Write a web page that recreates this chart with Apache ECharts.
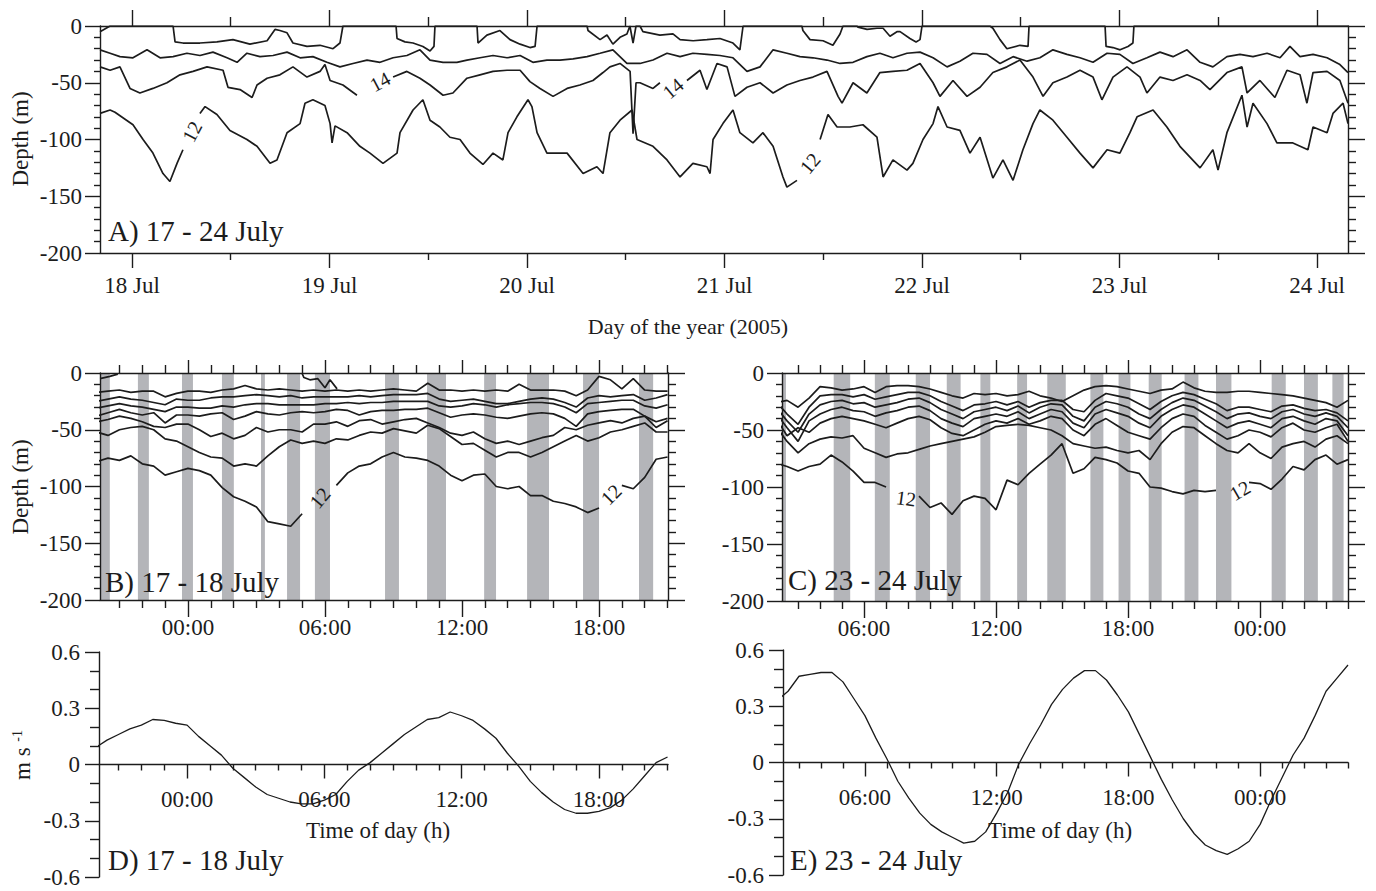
<!DOCTYPE html>
<html><head><meta charset="utf-8">
<script src="https://cdn.jsdelivr.net/npm/echarts@6/dist/echarts.min.js"></script>
<style>html,body{margin:0;padding:0;background:#fff}#c{width:1376px;height:891px}</style>
</head><body><div id="c"></div>
<script>
// ---------------- DATA ----------------
// Panel A: isotherm depths (m) as [day of July, depth]
const a15Pts = [[17.838,-21],[17.889,-24],[17.939,-27],[18.005,-28],[18.076,-21],[18.142,-28],[18.208,-27],[18.278,-24],[18.344,-26],[18.410,-23],[18.481,-28],[18.532,-32],[18.582,-24],[18.648,-27],[18.714,-26],[18.785,-23],[18.851,-28],[18.916,-27],[18.987,-32],[19.053,-36],[19.119,-33],[19.190,-30],[19.256,-32],[19.322,-28],[19.392,-26],[19.458,-21],[19.509,-30],[19.575,-32],[19.645,-32],[19.696,-30],[19.762,-28],[19.828,-26],[19.899,-28],[19.965,-26],[20.030,-32],[20.101,-30],[20.167,-30],[20.233,-29],[20.304,-27],[20.370,-24],[20.435,-21],[20.506,-33],[20.572,-33],[20.638,-30],[20.709,-24],[20.775,-27],[20.840,-24],[20.911,-25],[20.977,-26],[21.043,-28],[21.114,-40],[21.180,-36],[21.246,-21],[21.316,-24],[21.382,-27],[21.448,-28],[21.519,-30],[21.585,-33],[21.651,-32],[21.721,-27],[21.787,-24],[21.853,-28],[21.924,-24],[21.990,-23],[22.056,-28],[22.127,-36],[22.192,-31],[22.258,-24],[22.329,-25],[22.395,-33],[22.461,-27],[22.532,-31],[22.597,-28],[22.663,-21],[22.734,-25],[22.800,-28],[22.866,-32],[22.937,-24],[23.002,-25],[23.068,-33],[23.139,-28],[23.205,-23],[23.271,-27],[23.342,-21],[23.408,-32],[23.473,-36],[23.544,-27],[23.610,-25],[23.676,-27],[23.747,-24],[23.813,-28],[23.863,-18],[23.914,-27],[23.980,-25],[24.051,-28],[24.116,-34],[24.157,-41]];
const a14Pts = [[17.838,-36],[17.889,-39],[17.939,-36],[17.990,-55],[18.040,-59],[18.106,-55],[18.177,-50],[18.243,-43],[18.309,-40],[18.380,-36],[18.461,-39],[18.486,-54],[18.547,-56],[18.608,-63],[18.633,-52],[18.684,-46],[18.749,-43],[18.815,-36],[18.886,-45],[18.952,-40],[18.977,-34],[19.003,-48],[19.068,-52],[19.139,-61],[19.2,null],[19.322,-45],[19.392,-40],[19.458,-46],[19.509,-52],[19.575,-61],[19.625,-59],[19.696,-46],[19.762,-43],[19.828,-40],[19.899,-39],[19.965,-39],[20.015,-49],[20.066,-55],[20.132,-62],[20.203,-55],[20.268,-52],[20.334,-48],[20.385,-41],[20.420,-36],[20.471,-33],[20.522,-40],[20.537,-95],[20.552,-50],[20.572,-50],[20.638,-55],[20.673,-50],[20.74,null],[20.810,-48],[20.876,-39],[20.911,-56],[20.962,-33],[21.013,-36],[21.053,-62],[21.114,-54],[21.180,-50],[21.246,-59],[21.316,-52],[21.382,-48],[21.448,-45],[21.519,-40],[21.575,-62],[21.595,-68],[21.651,-50],[21.721,-59],[21.787,-41],[21.853,-40],[21.924,-39],[21.990,-33],[22.056,-50],[22.091,-62],[22.157,-48],[22.228,-62],[22.294,-54],[22.359,-41],[22.430,-36],[22.496,-30],[22.562,-45],[22.613,-62],[22.663,-50],[22.734,-45],[22.800,-39],[22.866,-45],[22.911,-65],[22.967,-45],[23.038,-36],[23.104,-45],[23.139,-59],[23.205,-45],[23.271,-48],[23.342,-43],[23.408,-48],[23.458,-56],[23.544,-41],[23.620,-36],[23.646,-59],[23.711,-48],[23.787,-63],[23.848,-39],[23.914,-43],[23.949,-68],[23.980,-41],[24.051,-40],[24.116,-48],[24.157,-68]];
const a12Pts = [[17.838,-77],[17.889,-74],[17.914,-76],[18.005,-87],[18.056,-100],[18.106,-112],[18.157,-130],[18.192,-137],[18.228,-121],[18.258,-109],[18.30,null],[18.344,-77],[18.370,-71],[18.430,-78],[18.496,-92],[18.582,-100],[18.633,-106],[18.699,-121],[18.734,-118],[18.785,-94],[18.851,-86],[18.876,-68],[18.916,-65],[18.977,-70],[19.003,-86],[19.013,-103],[19.028,-88],[19.089,-94],[19.154,-106],[19.205,-112],[19.271,-121],[19.342,-112],[19.357,-94],[19.423,-74],[19.473,-65],[19.509,-83],[19.559,-89],[19.610,-98],[19.661,-100],[19.711,-112],[19.777,-122],[19.828,-112],[19.878,-118],[19.904,-94],[19.949,-80],[20.005,-65],[20.025,-71],[20.051,-94],[20.101,-112],[20.203,-112],[20.284,-130],[20.354,-124],[20.385,-130],[20.420,-94],[20.471,-83],[20.532,-74],[20.557,-100],[20.638,-106],[20.709,-118],[20.775,-133],[20.840,-121],[20.911,-124],[20.927,-130],[20.942,-100],[20.992,-86],[21.043,-74],[21.078,-94],[21.144,-103],[21.195,-94],[21.246,-106],[21.296,-133],[21.316,-142],[21.367,-136],[21.43,null],[21.484,-100],[21.524,-78],[21.570,-89],[21.635,-89],[21.701,-87],[21.772,-98],[21.803,-133],[21.853,-118],[21.924,-127],[21.954,-121],[22.005,-100],[22.056,-86],[22.081,-71],[22.127,-89],[22.192,-92],[22.243,-112],[22.294,-98],[22.359,-134],[22.410,-118],[22.461,-136],[22.511,-109],[22.562,-86],[22.597,-74],[22.663,-83],[22.734,-98],[22.800,-112],[22.866,-125],[22.937,-109],[23.002,-112],[23.053,-94],[23.089,-80],[23.170,-74],[23.240,-89],[23.306,-106],[23.408,-125],[23.473,-109],[23.499,-127],[23.544,-94],[23.620,-61],[23.646,-89],[23.676,-68],[23.747,-86],[23.797,-103],[23.878,-103],[23.954,-109],[23.980,-89],[24.051,-94],[24.081,-77],[24.132,-68],[24.157,-86]];
// Near-surface isotherm (appears intermittently), irregular times
const aTopT = [17.838,17.889,18.208,18.218,18.258,18.344,18.430,18.511,18.597,18.684,18.724,18.749,18.785,18.815,18.886,18.952,19.018,19.053,19.068,19.337,19.342,19.382,19.423,19.473,19.509,19.529,19.534,19.747,19.752,19.797,19.863,19.914,19.965,20.015,20.041,20.051,20.304,20.309,20.370,20.405,20.435,20.471,20.506,20.521,20.537,20.552,20.572,20.587,20.673,20.739,20.775,20.841,20.911,20.977,21.043,21.078,21.094,21.392,21.397,21.433,21.499,21.549,21.585,21.600,21.671,21.676,21.722,21.772,21.803,21.838,21.873,21.889,21.939,21.970,21.990,22.000,22.344,22.359,22.395,22.430,22.496,22.537,22.542,22.927,22.932,22.967,23.003,23.043,23.068,23.073,24.157];
const aTopD = [-5,0,0,-14,-15,-15,-14,-12,-16,-13,-3,-4,-6,-15,-18,-17,-20,-15,0,0,-11,-14,-15,-18,-22,-18,0,0,-15,-8,-4,-12,-16,-19,-18,0,0,-4,-12,-8,-16,-10,-7,0,-15,0,0,-5,-8,-7,-12,-13,-12,-11,-15,-21,0,0,-4,-12,-13,-17,-7,0,0,-1,-3,-2,-2,-9,-5,-5,-11,-14,-12,0,0,-2,-12,-20,-17,-18,0,0,-18,-19,-21,-18,-15,0,0];
const aLabT = [19.256, 20.739, 18.304, 21.433];
const aLabD = [-49, -55, -93, -121];
const aLabText = ['14', '14', '12', '12'];
const aDayTicks = [18, 19, 20, 21, 22, 23, 24];
const aDayLabels = ['18 Jul', '19 Jul', '20 Jul', '21 Jul', '22 Jul', '23 Jul', '24 Jul'];
const aHalfDayTicks = [18.5, 19.5, 20.5, 21.5, 22.5, 23.5];

// Panel B: 17-18 July, hours from 18 Jul 00:00, every 0.5 h from -4 h
const bStart = -4, bStep = 0.5;
const bL1 = [-17,-16,-15,-17,-16,-16,-21,-18,-16,-16,-17,-15,-14,-11,-14,-15,-14,-15,-16,-15,-16,-15,-16,-15,-16,-15,-14,-15,-16,-9,-15,-15,-16,-15,-16,-15,-16,-10,-15,-15,-15,-16,-20,-15,-3,-6,-14,-5,-15,-16,-16];
const bL2 = [-25,-23,-21,-23,-24,-26,-28,-23,-24,-24,-22,-21,-21,-20,-19,-20,-21,-20,-22,-21,-21,-21,-21,-20,-21,-20,-19,-19,-19,-18,-23,-25,-24,-23,-25,-27,-27,-25,-23,-22,-23,-26,-30,-22,-20,-21,-20,-19,-24,-22,-19];
const bL3 = [-31,-29,-27,-29,-30,-32,-34,-30,-30,-31,-31,-29,-30,-28,-27,-27,-28,-28,-28,-28,-27,-27,-26,-27,-26,-26,-25,-25,-25,-25,-29,-30,-29,-27,-28,-30,-28,-27,-26,-26,-27,-30,-35,-27,-26,-25,-24,-24,-29,-31,-28];
const bL4 = [-38,-35,-32,-35,-37,-35,-44,-37,-37,-38,-36,-35,-41,-38,-34,-36,-37,-35,-34,-35,-34,-32,-33,-37,-34,-33,-33,-32,-32,-31,-35,-39,-37,-36,-37,-39,-40,-38,-36,-35,-36,-40,-47,-36,-34,-33,-32,-32,-38,-43,-40];
const bL5 = [-43,-41,-38,-40,-43,-47,-48,-45,-45,-50,-56,-53,-58,-55,-48,-52,-50,-50,-52,-45,-45,-43,-47,-42,-41,-45,-43,-41,-40,-44,-48,-53,-55,-52,-58,-62,-60,-63,-60,-57,-55,-48,-50,-46,-44,-42,-44,-40,-38,-48,-42];
const bL6 = [-52,-55,-50,-48,-47,-50,-58,-60,-65,-70,-74,-75,-82,-80,-82,-73,-65,-59,-62,-60,-62,-58,-59,-55,-52,-53,-49,-51,-53,-46,-49,-56,-63,-62,-68,-74,-70,-70,-74,-70,-65,-60,-55,-60,-57,-52,-50,-47,-44,-52,-52];
const bL12 = [-78,-75,-77,-73,-80,-82,-90,-87,-84,-86,-90,-101,-109,-113,-118,-131,-133,-135,-124,null,null,-99,-88,-82,-80,-74,-70,-74,-75,-77,-82,-90,-95,-90,-89,-100,-102,-100,-108,-108,-113,-115,-118,-123,-119,null,-99,-102,-92,-76,-74];
const bTopH = [-3.85,-3.42,-3.07,-3.0,4.99,5.08,5.34,5.69,6.0,6.22,6.53];
const bTopD = [-5,-3,-1,null,0,-4,-6,-5,-13,-6,-14];
const bBandStart = [-3.85,-2.19,-0.26,1.49,3.2,4.34,5.56,8.63,10.47,12.97,14.85,17.3,19.75];
const bBandEnd   = [-3.42,-1.71,0.22,2.01,3.37,4.91,6.22,9.24,11.3,13.49,15.81,18.0,20.37];
const bLabH = [5.78, 18.53];
const bLabD = [-110, -107];
const bLabText = ['12', '12'];
const bHourTicks = [0, 6, 12, 18];
const bHourLabels = ['00:00', '06:00', '12:00', '18:00'];
const bMinorHours = [-3,-2,-1,1,2,3,4,5,7,8,9,10,11,13,14,15,16,17,19,20,21];

// Panel C: 23-24 July, hours from 23 Jul 00:00, every 0.5 h from 2 h
const cStart = 2, cStep = 0.5;
const cL1 = [-26,-24,-30,-22,-12,-13,-15,-14,-12,-17,-12,-11,-11,-12,-14,-17,-20,-22,-18,-19,-18,-20,-19,-16,-20,-22,-25,-20,-15,-12,-11,-12,-14,-16,-18,-15,-14,-8,-13,-16,-17,-17,-16,-16,-17,-18,-19,-20,-22,-24,-26,-30,-24];
const cL2 = [-25,-36,-45,-30,-20,-19,-19,-21,-19,-23,-21,-19,-17,-17,-20,-25,-29,-33,-28,-27,-25,-28,-25,-30,-26,-24,-24,-32,-34,-24,-18,-20,-22,-27,-32,-25,-20,-17,-19,-23,-27,-33,-30,-30,-32,-34,-29,-28,-31,-33,-32,-35,-42];
const cL3 = [-30,-42,-52,-36,-28,-25,-24,-27,-26,-30,-28,-26,-23,-22,-26,-32,-36,-40,-34,-32,-30,-33,-29,-35,-30,-27,-28,-38,-42,-30,-25,-27,-30,-36,-40,-32,-26,-22,-24,-29,-34,-40,-36,-35,-38,-40,-34,-32,-36,-38,-35,-38,-48];
const cL4 = [-35,-48,-60,-42,-36,-32,-30,-33,-34,-38,-35,-33,-30,-29,-33,-40,-44,-47,-40,-38,-36,-38,-34,-40,-36,-32,-34,-44,-48,-36,-32,-35,-38,-44,-48,-38,-32,-28,-30,-36,-42,-48,-44,-42,-45,-48,-40,-38,-42,-45,-40,-42,-55];
const cL5 = [-40,-55,-48,-52,-44,-40,-38,-40,-42,-45,-48,-44,-40,-38,-41,-48,-53,-55,-50,-45,-42,-44,-40,-45,-42,-38,-40,-50,-55,-45,-40,-46,-52,-55,-58,-48,-40,-36,-38,-46,-52,-58,-55,-50,-52,-56,-48,-44,-50,-52,-48,-45,-60];
const cL6 = [-47,-60,-70,-62,-58,-56,-57,-55,-66,-70,-74,-71,-70,-67,-64,-62,-60,-58,-56,-52,-47,-46,-45,-46,-48,-50,-55,-62,-64,-66,-65,-68,-70,-68,-76,-62,-52,-47,-48,-55,-62,-68,-70,-62,-70,-75,-65,-62,-60,-65,-58,-55,-62];
const cL12 = [-79,-82,-86,-82,-80,-72,-78,-86,-96,-96,-100,null,null,-108,-118,-114,-124,-112,-108,-110,-120,-94,-98,-88,-80,-72,-62,-88,-84,-74,-76,-79,-86,-88,-100,-101,-104,-106,-103,-104,-103,null,null,-96,-97,-102,-93,-82,-85,-76,-72,-80,-76];
const cBandStart = [2.27,4.62,6.49,8.35,9.76,11.29,12.96,14.33,16.29,17.57,18.94,20.57,22.0,24.53,26.0,27.29];
const cBandEnd   = [2.45,5.37,7.17,9.0,10.39,11.74,13.41,15.17,16.88,18.11,19.53,21.2,22.7,25.17,26.63,27.8];
const cLabH = [7.91, 23.09];
const cLabD = [-110, -103];
const cLabText = ['12', '12'];
const cHourTicks = [6, 12, 18, 24];
const cHourLabels = ['06:00', '12:00', '18:00', '00:00'];
const cMinorHours = [3,4,5,7,8,9,10,11,13,14,15,16,17,19,20,21,22,23,25,26,27,28];

// Panels D/E: current velocity (m/s), every 0.5 h
const dVel = [0.09,0.13,0.16,0.19,0.21,0.24,0.235,0.22,0.21,0.15,0.10,0.05,-0.02,-0.07,-0.12,-0.16,-0.18,-0.20,-0.21,-0.21,-0.19,-0.16,-0.09,-0.03,0.01,0.06,0.11,0.16,0.20,0.24,0.25,0.28,0.26,0.235,0.19,0.14,0.06,-0.01,-0.09,-0.15,-0.20,-0.24,-0.26,-0.26,-0.25,-0.23,-0.19,-0.13,-0.06,0.01,0.04];
const eVel = [0.33,0.38,0.46,0.47,0.48,0.48,0.43,0.34,0.25,0.13,0.02,-0.10,-0.19,-0.27,-0.33,-0.37,-0.40,-0.43,-0.42,-0.37,-0.27,-0.16,-0.01,0.10,0.20,0.31,0.39,0.45,0.49,0.49,0.44,0.36,0.27,0.15,0.03,-0.09,-0.20,-0.30,-0.38,-0.44,-0.47,-0.49,-0.46,-0.42,-0.33,-0.20,-0.08,0.04,0.13,0.25,0.38,0.45,0.52];

const depthTicks = [0, -50, -100, -150, -200];
const depthLabels = ['0', '-50', '-100', '-150', '-200'];
const depthMinor = [-10,-20,-30,-40,-60,-70,-80,-90,-110,-120,-130,-140,-160,-170,-180,-190];
const velTicks = [0.6, 0.3, 0, -0.3, -0.6];
const velLabels = ['0.6', '0.3', '0', '-0.3', '-0.6'];
const velMinor = [0.5, 0.4, 0.2, 0.1, -0.1, -0.2, -0.4, -0.5];

// ---------------- CHART ----------------
const FONT = '"Liberation Serif","Times New Roman",serif';
const INK = '#1c1c1c';
const BAND = '#b4b5b9';
const grids = [], xAxes = [], yAxes = [], series = [];

function addGrid(g) { grids.push(Object.assign({containLabel: false, outerBoundsMode: 'none', show: false}, g)); return grids.length - 1; }
function mkAxis(kind, o) {
  const ax = {
    type: 'value', gridIndex: o.grid, min: o.min, max: o.max, position: o.pos, offset: o.offset || 0, z: 6,
    axisLine: {show: !!o.line, onZero: false, lineStyle: {color: INK, width: 1.4}},
    axisTick: {show: true, inside: false, length: o.len, customValues: o.ticks, lineStyle: {color: INK, width: 1.4}},
    axisLabel: {show: false},
    splitLine: {show: false}, splitArea: {show: false}
  };
  if (o.labels) {
    ax.axisLabel = {
      show: true, customValues: o.ticks, margin: o.margin, color: INK, fontFamily: FONT, fontSize: 23,
      formatter: function (v) { for (let k = 0; k < o.ticks.length; k++) { if (Math.abs(o.ticks[k] - v) < 1e-9) return o.labels[k]; } return ''; }
    };
  }
  const arr = kind === 'x' ? xAxes : yAxes;
  arr.push(ax);
  return arr.length - 1;
}
function regular(start, step, vals) { return vals.map((v, i) => [start + i * step, v]); }
function pairs(xs, ys) { return xs.map((x, i) => [x, ys[i]]); }
function line(xi, yi, data, w) {
  return {type: 'line', xAxisIndex: xi, yAxisIndex: yi, data: data, symbol: 'none', showSymbol: false,
    connectNulls: false, clip: true, silent: true, z: 3, lineStyle: {color: INK, width: w || 1.7}};
}
function bands(xi, yi, starts, ends) {
  return {type: 'custom', xAxisIndex: xi, yAxisIndex: yi, z: 1, silent: true, clip: true,
    data: starts.map((s, i) => [s, ends[i]]),
    renderItem: function (params, api) {
      const p0 = api.coord([api.value(0), 0]);
      const p1 = api.coord([api.value(1), -200]);
      const cs = params.coordSys;
      const r = echarts.graphic.clipRectByRect({x: p0[0], y: p0[1], width: p1[0] - p0[0], height: p1[1] - p0[1]},
        {x: cs.x, y: cs.y, width: cs.width, height: cs.height});
      return r && {type: 'rect', shape: r, style: {fill: BAND}};
    }};
}
function depthPanel(g, xmin, xmax, major, majorLabels, minor, L) {
  const xi = mkAxis('x', {grid: g, min: xmin, max: xmax, pos: 'bottom', line: true, len: L.bMaj, ticks: major, labels: majorLabels, margin: L.xMargin});
  mkAxis('x', {grid: g, min: xmin, max: xmax, pos: 'bottom', len: L.bMin, ticks: minor});
  mkAxis('x', {grid: g, min: xmin, max: xmax, pos: 'top', line: true, len: L.tMaj, ticks: major});
  mkAxis('x', {grid: g, min: xmin, max: xmax, pos: 'top', len: L.tMin, ticks: minor});
  const yi = mkAxis('y', {grid: g, min: -200, max: 0, pos: 'left', line: true, len: 15, ticks: depthTicks, labels: depthLabels, margin: 18});
  mkAxis('y', {grid: g, min: -200, max: 0, pos: 'left', len: 6, ticks: depthMinor});
  mkAxis('y', {grid: g, min: -200, max: 0, pos: 'right', line: true, len: 17, ticks: depthTicks});
  mkAxis('y', {grid: g, min: -200, max: 0, pos: 'right', len: 8, ticks: depthMinor});
  return [xi, yi];
}
// velocity panels: the time axis sits on the zero line (half the plot height above the bottom)
function velPanel(g, h, xmin, xmax, major, majorLabels, minor) {
  const off = -h / 2;
  const xi = mkAxis('x', {grid: g, min: xmin, max: xmax, pos: 'bottom', offset: off, line: true, len: 14, ticks: major, labels: majorLabels, margin: 23});
  mkAxis('x', {grid: g, min: xmin, max: xmax, pos: 'bottom', offset: off, len: 6, ticks: minor});
  const yi = mkAxis('y', {grid: g, min: -0.6, max: 0.6, pos: 'left', line: true, len: 14, ticks: velTicks, labels: velLabels, margin: 19});
  mkAxis('y', {grid: g, min: -0.6, max: 0.6, pos: 'left', len: 9, ticks: velMinor});
  return [xi, yi];
}

// Panel A
const gA = addGrid({left: 100, top: 26, width: 1248, height: 227});
const [xA, yA] = depthPanel(gA, 17.838, 24.157, aDayTicks, aDayLabels, aHalfDayTicks, {bMaj: 15, bMin: 7, tMaj: 16, tMin: 9, xMargin: 21});
series.push(line(xA, yA, pairs(aTopT, aTopD)));
series.push(line(xA, yA, a15Pts));
series.push(line(xA, yA, a14Pts));
series.push(line(xA, yA, a12Pts));

// Panel B
const gB = addGrid({left: 100, top: 373, width: 568, height: 227});
const [xB, yB] = depthPanel(gB, -3.85, 21.02, bHourTicks, bHourLabels, bMinorHours, {bMaj: 17, bMin: 8, tMaj: 13, tMin: 8, xMargin: 16});
series.push(bands(xB, yB, bBandStart, bBandEnd));
[bL1, bL2, bL3, bL4, bL5, bL6, bL12].forEach(v => series.push(line(xB, yB, regular(bStart, bStep, v))));
series.push(line(xB, yB, pairs(bTopH, bTopD)));

// Panel C
const gC = addGrid({left: 782, top: 373, width: 566, height: 228});
const [xC, yC] = depthPanel(gC, 2.27, 28.0, cHourTicks, cHourLabels, cMinorHours, {bMaj: 17, bMin: 8, tMaj: 13, tMin: 8, xMargin: 16});
series.push(bands(xC, yC, cBandStart, cBandEnd));
[cL1, cL2, cL3, cL4, cL5, cL6, cL12].forEach(v => series.push(line(xC, yC, regular(cStart, cStep, v))));

// Panel D
const gD = addGrid({left: 99, top: 652, width: 569, height: 225});
const [xD, yD] = velPanel(gD, 225, -3.85, 21.02, bHourTicks, bHourLabels, bMinorHours);
series.push(line(xD, yD, regular(bStart, bStep, dVel), 1.3));

// Panel E
const gE = addGrid({left: 783, top: 650, width: 565, height: 225});
const [xE, yE] = velPanel(gE, 225, 2.27, 28.0, cHourTicks, cHourLabels, cMinorHours);
series.push(line(xE, yE, regular(cStart, cStep, eVel), 1.3));

function txt(text, x, y, size) {
  return {type: 'text', x: x, y: y, silent: true, z: 10,
    style: {text: text, font: size + 'px ' + FONT, fill: INK, align: 'left', verticalAlign: 'middle'}};
}
const graphic = [
  txt('A) 17 - 24 July', 108, 231, 29),
  txt('B) 17 - 18 July', 105, 582, 29),
  txt('C) 23 - 24 July', 788, 580, 29),
  txt('D) 17 - 18 July', 108, 860, 29),
  txt('E) 23 - 24 July', 790, 860, 29),
  {type: 'text', x: 20, y: 139, rotation: Math.PI / 2, silent: true, style: {text: 'Depth (m)', font: '23px ' + FONT, fill: INK, align: 'center', verticalAlign: 'middle'}},
  {type: 'text', x: 20, y: 487, rotation: Math.PI / 2, silent: true, style: {text: 'Depth (m)', font: '23px ' + FONT, fill: INK, align: 'center', verticalAlign: 'middle'}},
  {type: 'text', x: 22, y: 755, rotation: Math.PI / 2, silent: true, style: {text: '{a|m s }{b|-1}', fill: INK, align: 'center', verticalAlign: 'middle',
    rich: {a: {font: '23px ' + FONT, fill: INK}, b: {font: '14px ' + FONT, fill: INK, verticalAlign: 'top', padding: [0, 0, 10, 0]}}}},
  {type: 'text', x: 688, y: 326, silent: true, style: {text: 'Day of the year (2005)', font: '22px ' + FONT, fill: INK, align: 'center', verticalAlign: 'middle'}},
  {type: 'text', x: 378, y: 830, silent: true, style: {text: 'Time of day (h)', font: '23px ' + FONT, fill: INK, align: 'center', verticalAlign: 'middle'}},
  {type: 'text', x: 1060, y: 830, silent: true, style: {text: 'Time of day (h)', font: '23px ' + FONT, fill: INK, align: 'center', verticalAlign: 'middle'}}
];

const chart = echarts.init(document.getElementById('c'), null, {renderer: 'svg', width: 1376, height: 891});
chart.setOption({
  animation: false,
  backgroundColor: '#ffffff',
  grid: grids, xAxis: xAxes, yAxis: yAxes, series: series, graphic: graphic
});

// isotherm labels, placed at data coordinates through the chart's own axes
function isoLabels(xi, yi, xs, ys, texts, rots) {
  return xs.map((x, i) => {
    const p = chart.convertToPixel({xAxisIndex: xi, yAxisIndex: yi}, [x, ys[i]]);
    return {type: 'text', x: p[0], y: p[1], rotation: rots[i] * Math.PI / 180, silent: true, z: 10,
      style: {text: texts[i], font: '20px ' + FONT, fill: INK, align: 'center', verticalAlign: 'middle'}};
  });
}
const labelGraphics = [].concat(
  isoLabels(xA, yA, aLabT, aLabD, aLabText, [28, 40, 62, 50]),
  isoLabels(xB, yB, bLabH, bLabD, bLabText, [50, 45]),
  isoLabels(xC, yC, cLabH, cLabD, cLabText, [-8, 30])
);
chart.setOption({graphic: graphic.concat(labelGraphics)}, {replaceMerge: ['graphic']});
</script></body></html>
